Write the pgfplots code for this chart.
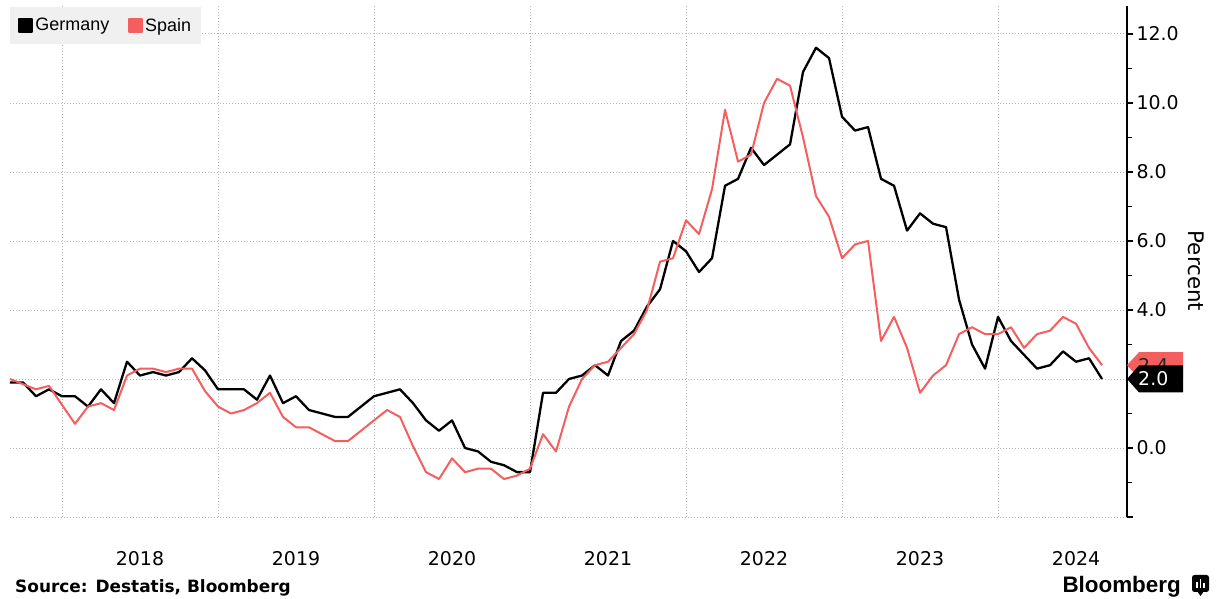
\documentclass[border=0pt]{standalone}
\usepackage{pgfplots}
\usepackage{pgfplotstable}
\pgfplotsset{compat=1.18}
\usepackage{fontspec}
\setmainfont{DejaVu Sans}
\newfontfamily\libsans{Liberation Sans}
\definecolor{spainred}{RGB}{244,94,94}
\definecolor{gridgray}{RGB}{180,180,180}
\definecolor{leggray}{RGB}{240,240,240}

\pgfplotstableread{
yr mo de es
2017 8 1.9 2.0
2017 9 1.9 1.85
2017 10 1.5 1.7
2017 11 1.7 1.8
2017 12 1.5 1.25
2018 1 1.5 0.7
2018 2 1.2 1.2
2018 3 1.7 1.3
2018 4 1.3 1.1
2018 5 2.5 2.1
2018 6 2.1 2.3
2018 7 2.2 2.3
2018 8 2.1 2.2
2018 9 2.2 2.3
2018 10 2.6 2.3
2018 11 2.25 1.65
2018 12 1.7 1.2
2019 1 1.7 1.0
2019 2 1.7 1.1
2019 3 1.4 1.3
2019 4 2.1 1.6
2019 5 1.3 0.9
2019 6 1.5 0.6
2019 7 1.1 0.6
2019 8 1.0 0.4
2019 9 0.9 0.2
2019 10 0.9 0.2
2019 11 1.2 0.5
2019 12 1.5 0.8
2020 1 1.6 1.1
2020 2 1.7 0.9
2020 3 1.3 0.05
2020 4 0.8 -0.7
2020 5 0.5 -0.9
2020 6 0.8 -0.3
2020 7 0.0 -0.7
2020 8 -0.1 -0.6
2020 9 -0.4 -0.6
2020 10 -0.5 -0.9
2020 11 -0.7 -0.8
2020 12 -0.7 -0.6
2021 1 1.6 0.4
2021 2 1.6 -0.1
2021 3 2.0 1.2
2021 4 2.1 2.0
2021 5 2.4 2.4
2021 6 2.1 2.5
2021 7 3.1 2.9
2021 8 3.4 3.3
2021 9 4.1 4.0
2021 10 4.6 5.4
2021 11 6.0 5.5
2021 12 5.7 6.6
2022 1 5.1 6.2
2022 2 5.5 7.5
2022 3 7.6 9.8
2022 4 7.8 8.3
2022 5 8.7 8.5
2022 6 8.2 10.0
2022 7 8.5 10.7
2022 8 8.8 10.5
2022 9 10.9 9.0
2022 10 11.6 7.3
2022 11 11.3 6.7
2022 12 9.6 5.5
2023 1 9.2 5.9
2023 2 9.3 6.0
2023 3 7.8 3.1
2023 4 7.6 3.8
2023 5 6.3 2.9
2023 6 6.8 1.6
2023 7 6.5 2.1
2023 8 6.4 2.4
2023 9 4.3 3.3
2023 10 3.0 3.5
2023 11 2.3 3.3
2023 12 3.8 3.3
2024 1 3.1 3.5
2024 2 2.7 2.9
2024 3 2.3 3.3
2024 4 2.4 3.4
2024 5 2.8 3.8
2024 6 2.5 3.6
2024 7 2.6 2.9
2024 8 2.0 2.4
}\datatable

\begin{document}
\begin{tikzpicture}
\begin{axis}[
  scale only axis, width=1117bp, height=511bp,
  xmin=-4, xmax=81.92, ymin=-2, ymax=12.81,
  clip=false,
  axis y line*=right, axis x line*=bottom,
  x axis line style={draw=none},
  y axis line style={line width=1.3bp, black, -},
  xtick={0,12,24,36,48,60,72}, xticklabels={},
  major x tick style={draw=none},
  extra x ticks={6,18,30,42,54,66,78},
  extra x tick labels={2018,2019,2020,2021,2022,2023,2024},
  extra x tick style={grid=none, major tick length=0pt, major x tick style={draw=none}},
  ytick={-2,0,2,4,6,8,10,12},
  yticklabels={,0.0,2.0,4.0,6.0,8.0,10.0,12.0},
  minor ytick={-1,1,3,5,7,9,11},
  tick align=outside,
  major tick length=6bp, minor tick length=5bp,
  major y tick style={black, line width=1.2bp},
  minor y tick style={black, line width=1bp},
  xmajorgrids, ymajorgrids,
  grid style={gridgray, line width=0.9bp, dash pattern=on 1bp off 2bp},
  /pgf/number format/assume math mode=true,
  ticklabel style={font=\fontsize{19}{22}\selectfont, text=black},
  yticklabel style={anchor=west, xshift=0bp},
  xticklabel style={anchor=north, yshift=-31bp},
  legend style={at={(0,1)}, anchor=north west, yshift=-1bp, fill=leggray, draw=none,
    font=\libsans\fontsize{18}{20}\selectfont, legend columns=2,
    inner xsep=8bp, inner ysep=9bp,
    /tikz/every even column/.append style={column sep=17bp}},
  legend cell align=left,
  legend image code/.code={\fill[#1] (0bp,-6.5bp) rectangle (13bp,6.5bp);},
]
\addplot[black, line width=2.3bp, line join=round] table[x expr=(\thisrow{yr}-2018)*12+\thisrow{mo}, y=de] {\datatable};
\addlegendentry{Germany}
\addplot[spainred, line width=2bp, line join=round] table[x expr=(\thisrow{yr}-2018)*12+\thisrow{mo}, y=es] {\datatable};
\addlegendentry{Spain}

\coordinate (bl) at (rel axis cs:0,0);
\coordinate (tr) at (rel axis cs:1,1);
\coordinate (br) at (rel axis cs:1,0);

% last-value tags
\fill[spainred] (axis cs:81.92,2.4) -- ++(12bp,13bp) -- ++(44bp,0bp) -- ++(0bp,-26bp) -- ++(-44bp,0bp) -- cycle;
\node[anchor=west, inner sep=0pt, font=\fontsize{19}{22}\selectfont, text=black!85] at ([xshift=11bp]axis cs:81.92,2.4) {2.4};
\fill[black] (axis cs:81.92,2.0) -- ++(12bp,13.5bp) -- ++(44bp,0bp) -- ++(0bp,-27bp) -- ++(-44bp,0bp) -- cycle;
\node[anchor=west, inner sep=0pt, font=\fontsize{19}{22}\selectfont, text=white] at ([xshift=11bp]axis cs:81.92,2.0) {2.0};

% axis title
\node[rotate=-90, font=\fontsize{21.5}{24}\selectfont] at ([xshift=69bp]axis cs:81.92,5.13) {Percent};
\end{axis}
% footer
\node[anchor=base west, inner sep=0pt, font=\bfseries\fontsize{17}{20}\selectfont] at ([shift={(5bp,-76bp)}]bl) {Source: Destatis, Bloomberg};
\node[anchor=base east, inner sep=0pt, font=\libsans\bfseries\fontsize{22.5}{26}\selectfont] at ([shift={(54bp,-76bp)}]br) {Bloomberg};
\fill[black, rounded corners=2.5bp] ([shift={(65bp,-58bp)}]br) rectangle ([shift={(82bp,-75bp)}]br);
\fill[black] ([shift={(70bp,-74bp)}]br) -- ([shift={(73.5bp,-79bp)}]br) -- ([shift={(77bp,-74bp)}]br) -- cycle;
\fill[white] ([shift={(69bp,-71bp)}]br) rectangle ([shift={(70.8bp,-65bp)}]br);
\fill[white] ([shift={(72.6bp,-71bp)}]br) rectangle ([shift={(74.4bp,-62bp)}]br);
\fill[white] ([shift={(76.2bp,-71bp)}]br) rectangle ([shift={(78bp,-66bp)}]br);
\pgfresetboundingbox
\useasboundingbox ([shift={(-10bp,-82bp)}]bl) rectangle ([shift={(91bp,6bp)}]tr);
\end{tikzpicture}
\end{document}
